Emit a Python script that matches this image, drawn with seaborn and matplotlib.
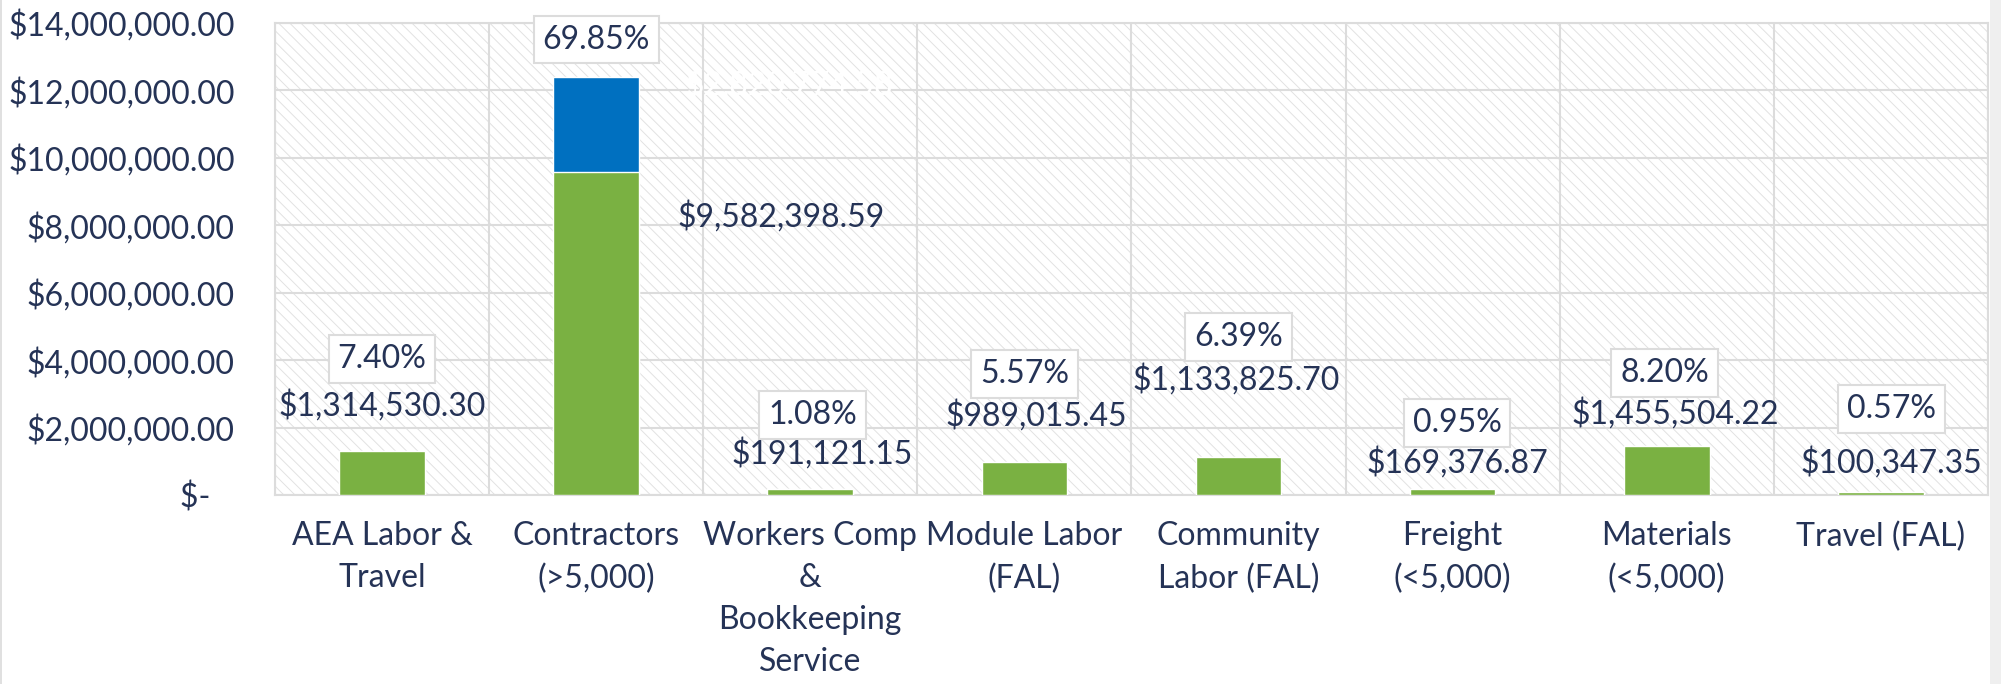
import matplotlib
matplotlib.use('Agg')
import numpy as np
import pandas as pd
import seaborn as sns
import matplotlib.pyplot as plt
from matplotlib.patches import Rectangle

# data
categories = ['AEA Labor &\nTravel', 'Contractors\n(>5,000)',
              'Workers Comp\n&\nBookkeeping\nService', 'Module Labor\n(FAL)',
              'Community\nLabor (FAL)', 'Freight\n(<5,000)', 'Materials\n(<5,000)',
              'Travel (FAL)']
spent = [1314530.30, 9582398.59, 191121.15, 989015.45, 1133825.70,
         169376.87, 1455504.22, 100347.35]
remaining = [0, 2820774.58, 0, 0, 0, 0, 0, 0]
pct_labels = ['7.40%', '69.85%', '1.08%', '5.57%', '6.39%', '0.95%', '8.20%', '0.57%']
y_ticks = [0, 2e6, 4e6, 6e6, 8e6, 10e6, 12e6, 14e6]

# where Excel left the data labels (dollars / category offsets)
value_label_y = [2.65e6, 8.25e6, 1.22e6, 2.37e6, 3.41e6, 0.95e6, 2.43e6, 0.95e6]
value_label_dx = [0, 0.865, 0.056, 0.056, -0.01, 0.02, 0.04, 0.05]
pct_label_y = [4.03e6, 13.51e6, 2.38e6, 3.60e6, 4.69e6, 2.14e6, 3.62e6, 2.55e6]
pct_label_dx = [0, 0, 0.01, 0.0, 0.0, 0.02, -0.01, 0.05]

navy = '#253356'
green = '#7AB142'
blue = '#0070C0'
grid = '#DCDCDC'
fs = 23

sns.set_theme(style='white')
plt.rcParams['font.family'] = ['Lato', 'DejaVu Sans']
plt.rcParams['hatch.linewidth'] = 0.7
plt.rcParams['hatch.color'] = '#E2E2E2'

df = pd.DataFrame({'category': categories, 'spent': spent})
df['total'] = df['spent'] + np.array(remaining)

fig = plt.figure(figsize=(20.01, 6.84), dpi=100)
ax = fig.add_axes([0.1374, 0.2763, 0.9935 - 0.1374, 0.9664 - 0.2763])

# hatched plot area
ax.add_patch(Rectangle((0, 0), 1, 1, transform=ax.transAxes, facecolor='white',
                       edgecolor='#E2E2E2', hatch='\\\\\\', linewidth=0, zorder=0))

sns.barplot(data=df, x='category', y='total', color=blue, width=0.4,
            saturation=1, ax=ax, zorder=3)
sns.barplot(data=df, x='category', y='spent', color=green, width=0.4,
            saturation=1, ax=ax, zorder=3)

ax.set_xlim(-0.5, len(categories) - 0.5)
ax.set_ylim(0, 14e6)
ax.set_xlabel('')
ax.set_ylabel('')

ax.set_yticks(y_ticks)
ax.set_yticklabels(['$-   ' if v == 0 else f'${v:,.2f}' for v in y_ticks])
ax.set_xticks(range(len(categories)))
ax.set_xticklabels(categories, linespacing=1.5)
ax.set_xticks(np.arange(-0.5, len(categories), 1), minor=True)

ax.set_axisbelow(True)
ax.yaxis.grid(True, color=grid, lw=1.5, zorder=1)
ax.xaxis.grid(True, which='minor', color=grid, lw=1.5, zorder=1)
ax.xaxis.grid(False, which='major')
ax.tick_params(axis='both', which='both', length=0, labelsize=fs, labelcolor=navy)
ax.tick_params(axis='y', pad=29)
ax.tick_params(axis='x', pad=19)
for s in ax.spines.values():
    s.set_color(grid)
    s.set_linewidth(1.5)

for i, v in enumerate(spent):
    ax.text(i + value_label_dx[i], value_label_y[i], f'${v:,.2f}', ha='center',
            va='center', fontsize=fs, color=navy, zorder=5)
    ax.text(i + pct_label_dx[i], pct_label_y[i], pct_labels[i], ha='center',
            va='center', fontsize=fs, color=navy, zorder=5,
            bbox=dict(boxstyle='square,pad=0.28', fc='white', ec=grid, lw=1.5))

# white label for the blue segment (nearly invisible in the original)
for i, r in enumerate(remaining):
    if r > 0:
        ax.text(i + 0.9, 12.16e6, f'${r:,.2f}', ha='center', va='center',
                fontsize=fs, color='white', zorder=5)

# thin frame bits at figure edges
fig.patches.append(Rectangle((0.9945, 0), 0.0055, 1, transform=fig.transFigure,
                             facecolor='#EFEFEF', edgecolor='none'))
fig.patches.append(Rectangle((0, 0), 0.001, 1, transform=fig.transFigure,
                             facecolor='#E0E0E0', edgecolor='none'))

fig.savefig('out.png', dpi=100)
